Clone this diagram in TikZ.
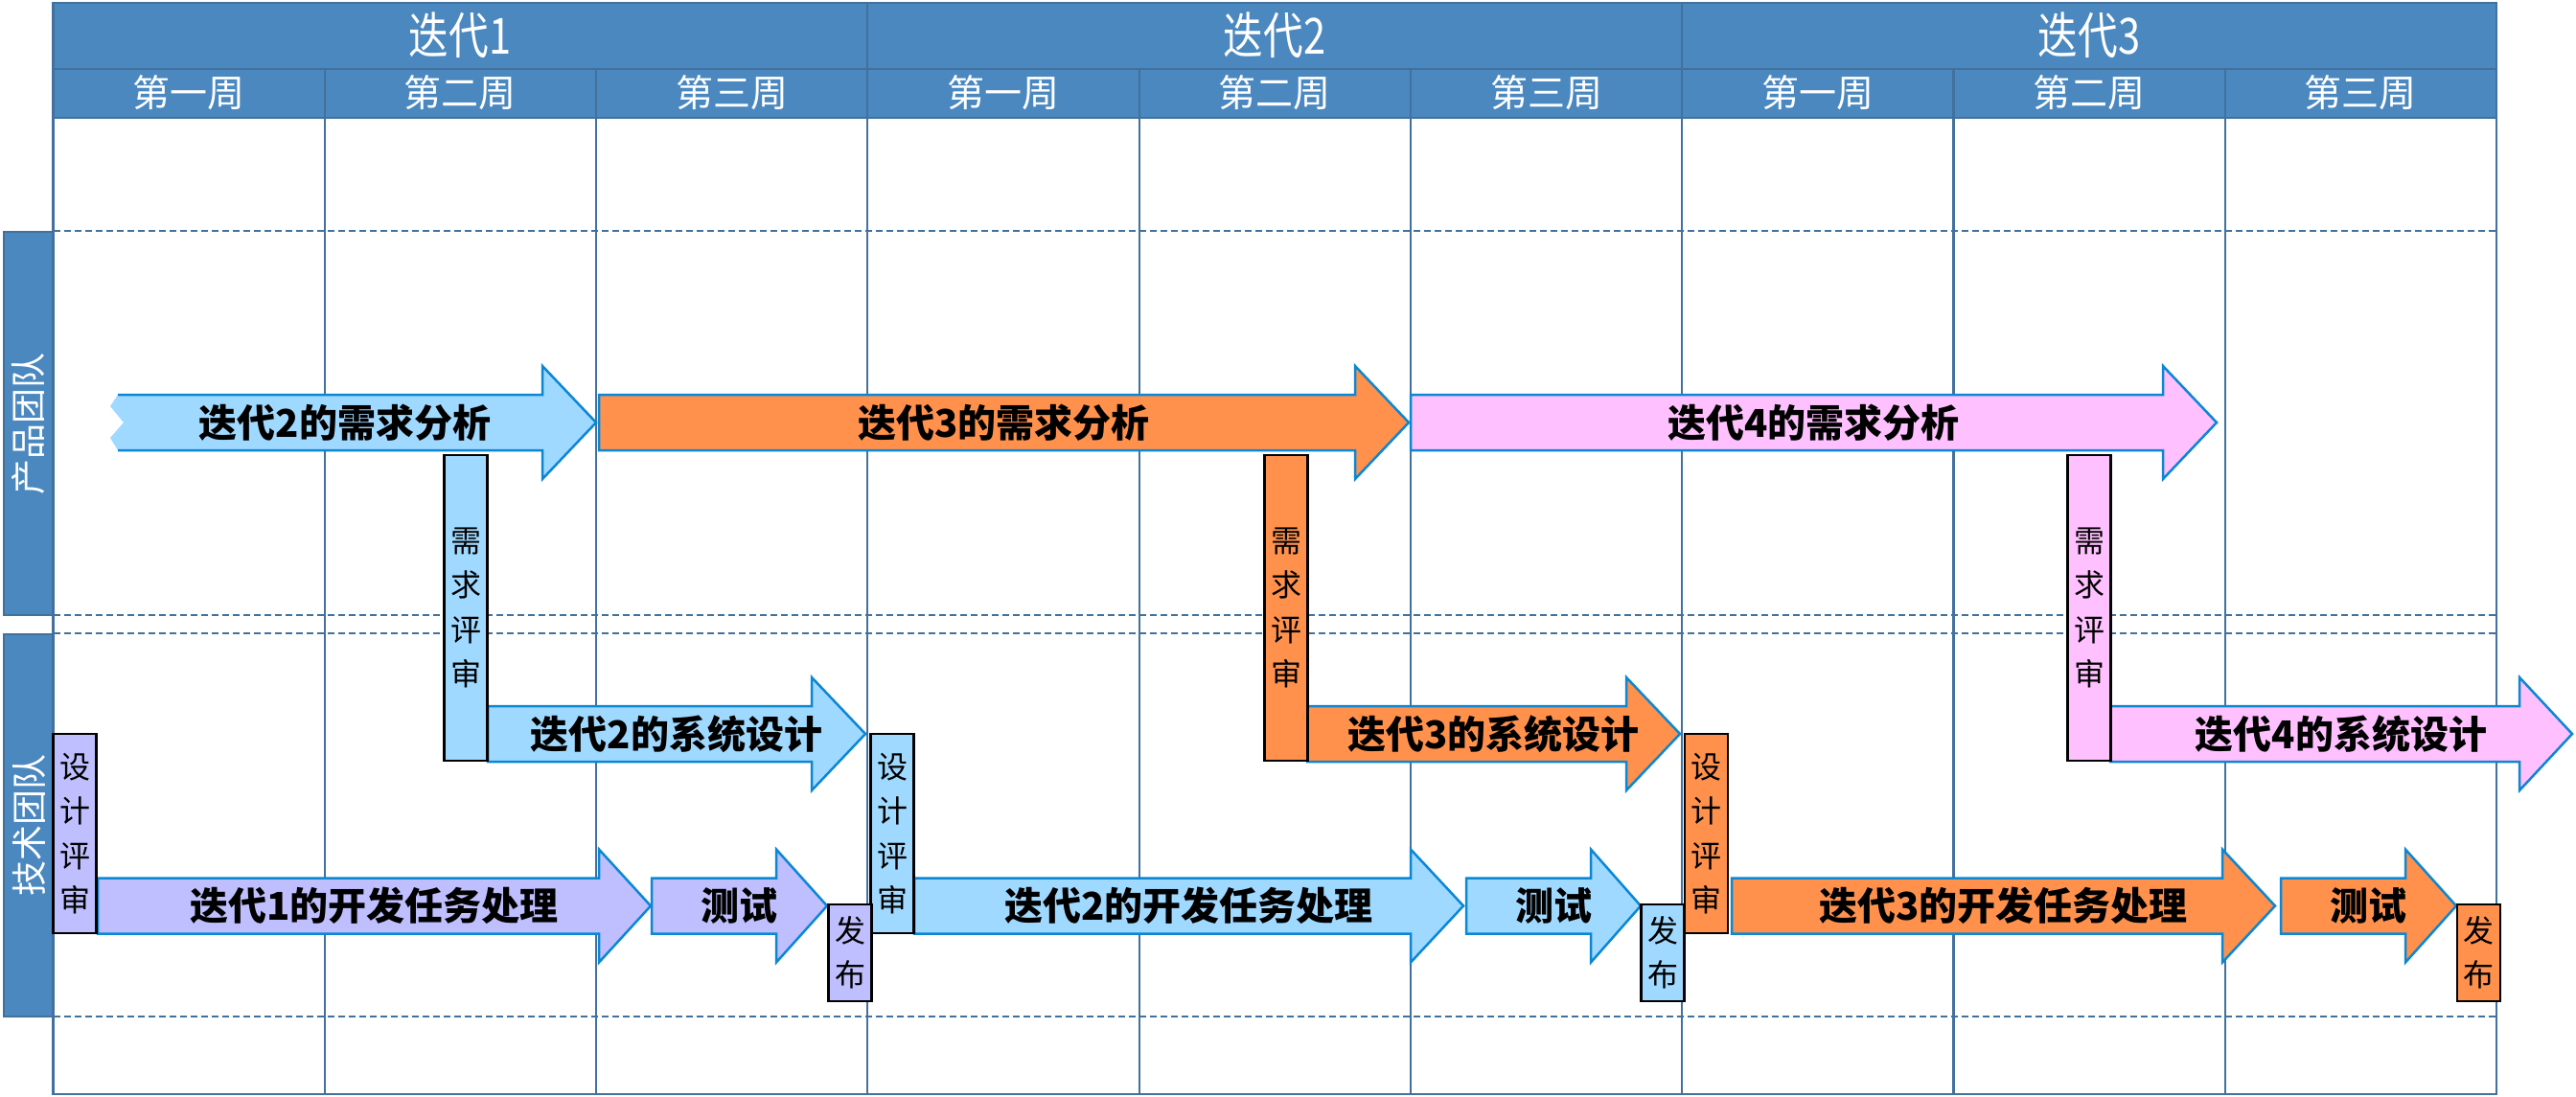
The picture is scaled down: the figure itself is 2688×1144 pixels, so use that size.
\documentclass[tikz,border=0pt]{standalone}
\usepackage{fontspec}
\setmainfont{Noto Sans CJK SC}
\definecolor{hdr}{HTML}{4B88BF}
\definecolor{hdrline}{HTML}{41719C}
\definecolor{astroke}{HTML}{0B87D3}
\definecolor{lblue}{HTML}{A0D9FF}
\definecolor{orng}{HTML}{FF914D}
\definecolor{pnk}{HTML}{FFC0FF}
\definecolor{prpl}{HTML}{BFBFFF}
\tikzset{
  gridline/.style={draw=hdrline, line width=2.2pt},
  dashline/.style={draw=hdrline, line width=2.2pt, dash pattern=on 7pt off 4pt},
  arrowline/.style={draw=astroke, line width=2.5pt, line join=miter},
  arrowtext/.style={font={\fontsize{40}{48}\selectfont\bfseries}, inner sep=0pt, text=black},
  revbox/.style={draw=black, line width=2.5pt, minimum width=45pt, inner sep=0pt, align=center, font={\fontsize{32}{46.5}\selectfont}},
  itertext/.style={font={\fontsize{52}{60}\selectfont}, text=white, inner sep=0pt, xscale=0.8},
  weektext/.style={font={\fontsize{39}{44}\selectfont}, text=white, inner sep=0pt},
  teamtext/.style={font={\fontsize{37}{40}\selectfont}, text=white, inner sep=0pt, rotate=90},
}
% fill colour, left x, head base x, tip x, centre y, node name, text
\newcommand{\garrow}[7]{%
  \draw[arrowline, fill=#1] (#2,#5-29) -- (#3,#5-29) -- (#3,#5-59) -- (#4,#5)
     -- (#3,#5+59) -- (#3,#5+29) -- (#2,#5+29) -- cycle;
  \node[arrowtext] (#6) at ({(#2+#4)/2},#5) {#7};
}
\begin{document}
\begin{tikzpicture}[x=1pt, y=-1pt]
\useasboundingbox (0,0) rectangle (2688,1144);
\fill[white] (0,0) rectangle (2688,1144);
% header
\fill[hdr] (55.5,3) rectangle (2605,123);
% team boxes
\node[draw=hdrline, fill=hdr, line width=2.2pt, minimum width=52pt, minimum height=400pt, inner sep=0pt] (team1) at (30,442) {};
\node[draw=hdrline, fill=hdr, line width=2.2pt, minimum width=52pt, minimum height=399pt, inner sep=0pt] (team2) at (30,861.5) {};
\node[teamtext] (team1t) at (team1.center) {产品团队};
\node[teamtext] (team2t) at (team2.center) {技术团队};
% dashed lines
\foreach \yy in {241,642,661,1061} \draw[dashline] (55.5,\yy) -- (2605,\yy);
% grid
\draw[gridline] (55.5,3) rectangle (2605,1142);
\draw[gridline] (55.5,72) -- (2605,72);
\draw[gridline] (55.5,123) -- (2605,123);
\foreach \i in {1,2,4,5,7,8} \draw[gridline] ({55.5+\i*283.28},72) -- ({55.5+\i*283.28},1142);
\foreach \i in {3,6} \draw[gridline] ({55.5+\i*283.28},3) -- ({55.5+\i*283.28},1142);
% header texts
\node[itertext] (it1) at (480,37) {迭代1};
\node[itertext] (it2) at (1330,37) {迭代2};
\node[itertext] (it3) at (2180,37) {迭代3};
\foreach \i/\t in {0/第一周,1/第二周,2/第三周,3/第一周,4/第二周,5/第三周,6/第一周,7/第二周,8/第三周}
  \node[weektext] (wk\i) at ({55.5+(\i+0.5)*283.28},97) {\t};
% product row arrows
\fill[lblue] (123,412) -- (566,412) -- (566,382) -- (622,441) -- (566,500) -- (566,470)
   -- (123,470) -- (115,457) -- (129,441) -- (115,424) -- cycle;
\draw[arrowline] (123,412) -- (566,412) -- (566,382) -- (622,441) -- (566,500) -- (566,470) -- (123,470);
\node[arrowtext] (req2) at (360,441) {迭代2的需求分析};
\garrow{orng}{625}{1414}{1470}{441}{req3}{迭代3的需求分析}
\garrow{pnk}{1472}{2257}{2313}{441}{req4}{迭代4的需求分析}
% system design arrows
\garrow{lblue}{509}{847}{903}{766}{sd2}{迭代2的系统设计}
\garrow{orng}{1364}{1697}{1753}{766}{sd3}{迭代3的系统设计}
\garrow{pnk}{2202}{2629}{2684}{766}{sd4}{迭代4的系统设计}
% development arrows
\garrow{prpl}{102}{625}{679}{945.5}{dev1}{迭代1的开发任务处理}
\garrow{lblue}{954}{1472}{1527}{945.5}{dev2}{迭代2的开发任务处理}
\garrow{orng}{1807}{2319}{2374}{945.5}{dev3}{迭代3的开发任务处理}
% test arrows
\garrow{prpl}{680}{810}{863}{945.5}{test1}{测试}
\garrow{lblue}{1530}{1660}{1712}{945.5}{test2}{测试}
\garrow{orng}{2380}{2510}{2563}{945.5}{test3}{测试}
% requirement review boxes
\node[revbox, fill=lblue, minimum height=319pt] (rr2) at (486,634.5) {需\\求\\评\\审};
\node[revbox, fill=orng, minimum height=319pt] (rr3) at (1342,634.5) {需\\求\\评\\审};
\node[revbox, fill=pnk, minimum height=319pt] (rr4) at (2180,634.5) {需\\求\\评\\审};
% design review boxes
\node[revbox, fill=prpl, minimum height=208pt] (dr1) at (78,870) {设\\计\\评\\审};
\node[revbox, fill=lblue, minimum height=208pt] (dr2) at (931,870) {设\\计\\评\\审};
\node[revbox, fill=orng, minimum height=208pt] (dr3) at (1780.5,870) {设\\计\\评\\审};
% release boxes
\node[revbox, fill=prpl, minimum height=101pt] (rel1) at (887,994.5) {发\\布};
\node[revbox, fill=lblue, minimum height=101pt] (rel2) at (1735,994.5) {发\\布};
\node[revbox, fill=orng, minimum height=101pt] (rel3) at (2586.5,994.5) {发\\布};
\end{tikzpicture}
\end{document}
